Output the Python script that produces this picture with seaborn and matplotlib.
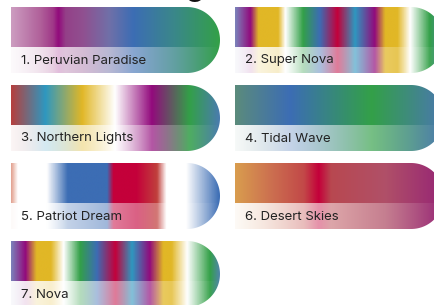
import numpy as np
import matplotlib
matplotlib.use("Agg")
import matplotlib.pyplot as plt
import seaborn as sns
from matplotlib.colors import LinearSegmentedColormap, to_rgb
from matplotlib.path import Path
from matplotlib.patches import PathPatch

# base colours of the palette family
MAGENTA = "#920a7c"
BLUE = "#3c6db4"
GREEN = "#33a048"
YELLOW = "#e1b726"
CRIMSON = "#c4003a"
TEAL = "#2e98c0"
WHITE = "#ffffff"

names = ["1. Peruvian Paradise", "2. Super Nova", "3. Northern Lights",
         "4. Tidal Wave", "5. Patriot Dream", "6. Desert Skies", "7. Nova"]

# gradient stops (position 0..1 along the swatch, colour)
peruvian_pos = [0.0, 0.14, 0.20, 0.225, 0.26, 0.345, 0.47, 0.585, 0.79, 1.0]
peruvian_colors = ["#cc9cc0", "#b0609a", "#a03888", MAGENTA, "#944088",
                   "#905090", "#7070a8", BLUE, "#3a8888", GREEN]

supernova_pos = [0.0, 0.072, 0.11, 0.205, 0.24, 0.325, 0.405, 0.49, 0.575,
                 0.67, 0.72, 0.78, 0.84, 0.935, 1.0]
supernova_colors = ["#7b80b9", MAGENTA, YELLOW, YELLOW, WHITE, GREEN, BLUE,
                    CRIMSON, TEAL, MAGENTA, YELLOW, YELLOW, WHITE, GREEN, "#4f86a6"]

northern_pos = [0.0, 0.163, 0.34, 0.498, 0.675, 0.856, 1.0]
northern_colors = ["#b5403f", TEAL, YELLOW, WHITE, MAGENTA, GREEN, "#4a7cae"]

tidal_pos = [0.0, 0.263, 0.655, 1.0]
tidal_colors = ["#5b8b7c", BLUE, GREEN, "#4a78ae"]

patriot_pos = [0.0, 0.03, 0.17, 0.27, 0.46, 0.49, 0.60, 0.70, 0.745, 0.84, 1.0]
patriot_colors = ["#e3a493", WHITE, WHITE, BLUE, BLUE, CRIMSON, CRIMSON,
                  "#c0403c", WHITE, WHITE, BLUE]

desert_pos = [0.0, 0.17, 0.33, 0.40, 0.46, 0.72, 1.0]
desert_colors = ["#d99d4e", "#cc7050", "#c24848", CRIMSON, "#b84850",
                 "#b05068", "#962575"]

nova_pos = [0.0, 0.067, 0.12, 0.19, 0.25, 0.33, 0.41, 0.50, 0.58, 0.665,
            0.73, 0.77, 0.845, 0.955, 1.0]
nova_colors = ["#7b7fb9", MAGENTA, YELLOW, YELLOW, WHITE, GREEN, BLUE, CRIMSON,
               TEAL, MAGENTA, YELLOW, YELLOW, WHITE, GREEN, "#4f86a6"]

stops = [(peruvian_pos, peruvian_colors), (supernova_pos, supernova_colors),
         (northern_pos, northern_colors), (tidal_pos, tidal_colors),
         (patriot_pos, patriot_colors), (desert_pos, desert_colors),
         (nova_pos, nova_colors)]

sns.set_theme(style="white")
plt.rcParams["font.family"] = ["Inter", "DejaVu Sans"]

fig = plt.figure(figsize=(4.35, 3.05), dpi=100)
ax = fig.add_axes([0, 0, 1, 1])
ax.set_xlim(0, 435)
ax.set_ylim(305, 0)
ax.axis("off")

# layout in pixels
col_x = [11, 235]
row_y = [7, 85, 163, 241]
W, H, SPLIT = 209, 66, 40
R = H / 2
N = 600

# cut-off page title, only the descender shows
ax.text(205, -3.5, "Branding", ha="right", va="baseline", fontsize=22,
        fontweight="medium", color="#111111")

for i, (name, (pos, cols)) in enumerate(zip(names, stops)):
    x0 = col_x[i % 2]
    top = row_y[i // 2]
    cmap = LinearSegmentedColormap.from_list(f"g{i}", list(zip(pos, cols)))
    f = np.linspace(0, 1, N)
    rgb = cmap(f)[:, :3]
    alpha = 0.95 * (1 - f)
    faded = rgb * (1 - alpha[:, None]) + alpha[:, None]

    # clip shape: square left end, round right end
    xc, yc = x0 + W - R, top + R
    t = np.linspace(-np.pi / 2, np.pi / 2, 60)
    verts = [(x0, top), (xc, top)] + list(zip(xc + R * np.cos(t), yc + R * np.sin(t))) \
        + [(x0, top + H), (x0, top)]
    codes = [Path.MOVETO] + [Path.LINETO] * (len(verts) - 2) + [Path.CLOSEPOLY]
    patch = PathPatch(Path(verts, codes), facecolor="none", edgecolor="none",
                      transform=ax.transData)
    ax.add_patch(patch)

    im1 = ax.imshow(rgb[None], extent=[x0, x0 + W, top + SPLIT, top],
                    aspect="auto", interpolation="bilinear")
    im2 = ax.imshow(faded[None], extent=[x0, x0 + W, top + H, top + SPLIT],
                    aspect="auto", interpolation="bilinear")
    im1.set_clip_path(patch)
    im2.set_clip_path(patch)

    ax.text(x0 + 10, top + 53.5, name, fontsize=9.5, color="#222222",
            va="center", ha="left")

ax.set_xlim(0, 435)
ax.set_ylim(305, 0)
fig.savefig("out.png", dpi=100)
